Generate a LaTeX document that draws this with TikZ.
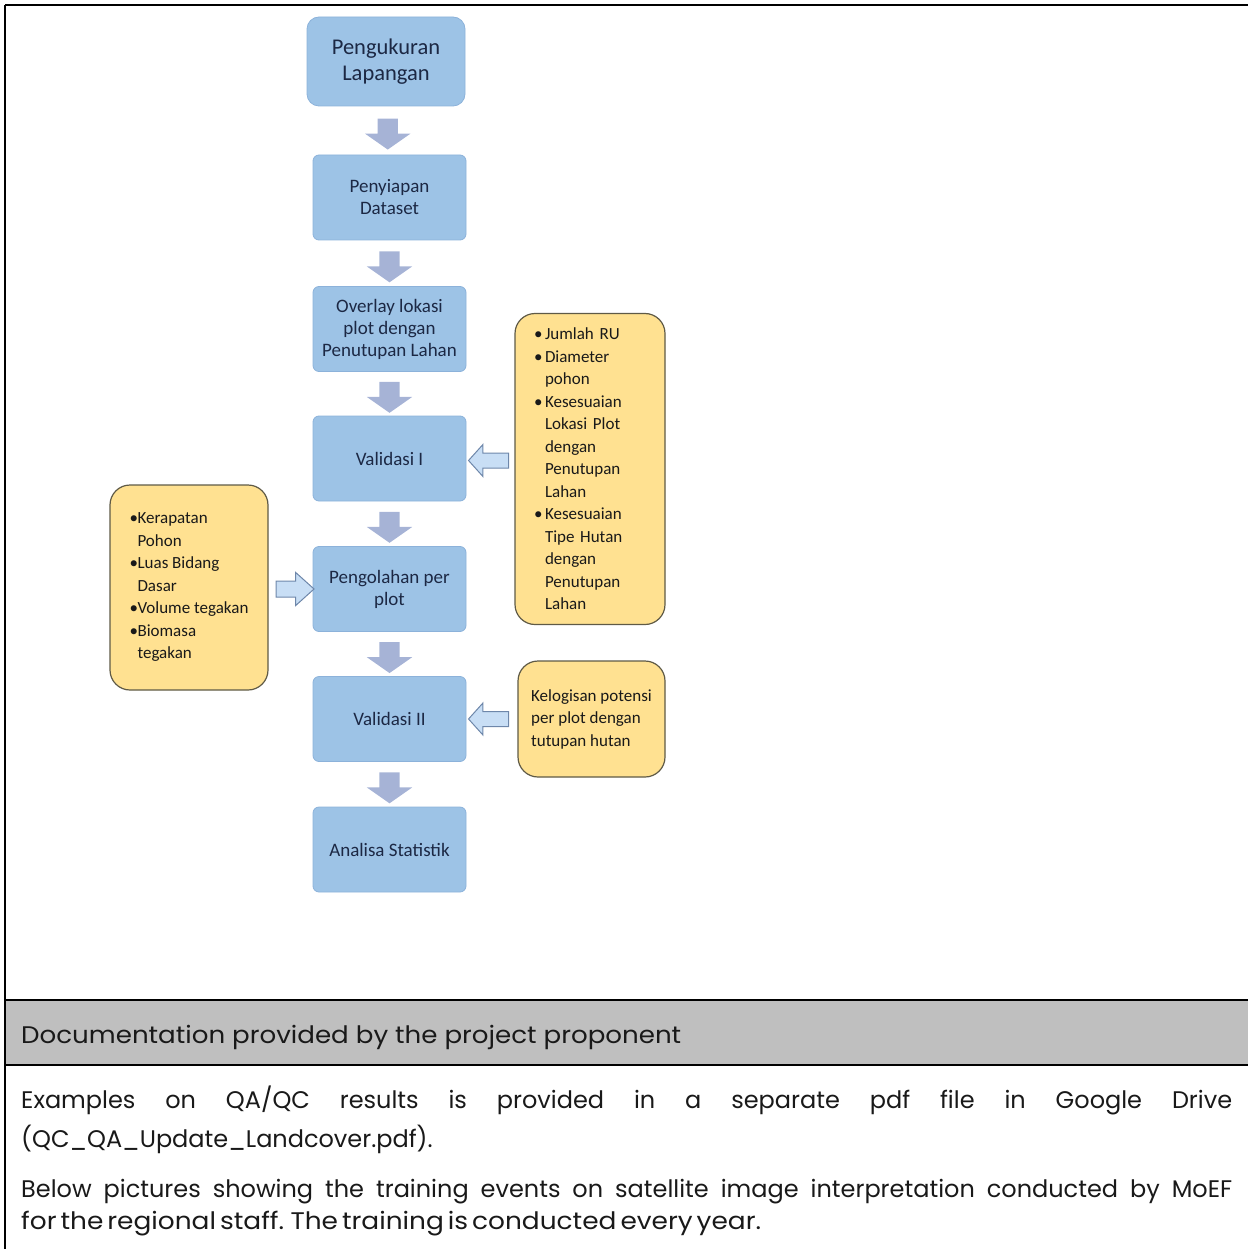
\documentclass[tikz,border=0pt]{standalone}
\usepackage{fontspec}
\setmainfont{Poppins}
\newfontfamily\calfont{Carlito}
\usetikzlibrary{shapes.arrows,calc}
\definecolor{boxblue}{RGB}{157,195,230}
\definecolor{boxblueline}{RGB}{140,178,218}
\definecolor{navytext}{RGB}{28,40,68}
\definecolor{arrowgray}{RGB}{166,179,214}
\definecolor{noteyellow}{RGB}{255,225,145}
\definecolor{noteline}{RGB}{95,90,70}
\definecolor{hollowfill}{RGB}{200,222,245}
\definecolor{hollowline}{RGB}{110,135,170}
\definecolor{bandgray}{RGB}{191,191,191}
\tikzset{
  flowbox/.style={rectangle, rounded corners=6pt, fill=boxblue, draw=boxblueline, line width=0.8pt,
    minimum width=153pt, minimum height=85pt, align=center, text=navytext, inner sep=2pt,
    font=\calfont\fontsize{19}{22}\selectfont},
  notebox/.style={rectangle, rounded corners=20pt, fill=noteyellow, draw=noteline, line width=1.2pt,
    align=left, text=black!90, inner sep=0pt, font=\calfont\fontsize{17}{22.5}\selectfont},
  downarrow/.style={single arrow, rotate=-90, fill=arrowgray, draw=none, inner xsep=0pt, inner ysep=10pt,
    minimum height=31pt, single arrow head extend=12.5pt,
    single arrow tip angle=110, single arrow head indent=0pt},
  hollowarrow/.style={single arrow, fill=hollowfill, draw=hollowline, line width=1pt, inner xsep=0pt, inner ysep=7pt,
    minimum height=40pt, single arrow head extend=8.5pt,
    single arrow tip angle=96, single arrow head indent=0pt},
  frameline/.style={line width=2pt, black},
  bodytext/.style={anchor=base west, inner sep=0pt, font=\fontsize{24}{28}\selectfont, text=black!90}
}
\newcommand\ybul[1]{\makebox[11pt][l]{•}#1}
\newcommand\yind[1]{\hspace*{11pt}#1}
\newcommand\lbul[1]{\makebox[8pt][l]{•}#1}
\newcommand\lind[1]{\hspace*{8pt}#1}
\begin{document}
\begin{tikzpicture}[x=1pt,y=-1pt]
\useasboundingbox (0,0) rectangle (1248,1249);
% frame and band
\fill[bandgray] (5,1000) rectangle (1248,1065);
\draw[frameline] (5,5) -- (1248,5);
\draw[frameline] (5,5) -- (5,1249);
\draw[frameline] (5,1000) -- (1248,1000);
\draw[frameline] (5,1065) -- (1248,1065);

% flow boxes
\node[flowbox, rounded corners=12pt, minimum width=158pt, minimum height=89pt,
  font=\calfont\fontsize{22.5}{26}\selectfont] (b1) at (386,61.5) {Pengukuran\\Lapangan};
\node[flowbox] (b2) at (389.5,197.5) {Penyiapan\\Dataset};
\node[flowbox] (b3) at (389.5,329) {Overlay lokasi\\plot dengan\\Penutupan Lahan};
\node[flowbox] (b4) at (389.5,458.5) {Validasi I};
\node[flowbox] (b5) at (389.5,589) {Pengolahan per\\plot};
\node[flowbox] (b6) at (389.5,719) {Validasi II};
\node[flowbox] (b7) at (389.5,849.5) {Analisa Statistik};

% down arrows
\node[downarrow] (d1) at ($(b1.south)!0.5!(b2.north)$) {};
\node[downarrow] (d2) at ($(b2.south)!0.5!(b3.north)$) {};
\node[downarrow] (d3) at ($(b3.south)!0.5!(b4.north)$) {};
\node[downarrow] (d4) at ($(b4.south)!0.5!(b5.north)$) {};
\node[downarrow] (d5) at ($(b5.south)!0.5!(b6.north)$) {};
\node[downarrow] (d6) at ($(b6.south)!0.5!(b7.north)$) {};

% notes
\node[notebox, minimum width=150pt, minimum height=311pt, text width=112pt] (n1) at (590,469)
 {\ybul{Jumlah RU}\\\ybul{Diameter}\\\yind{pohon}\\\ybul{Kesesuaian}\\\yind{Lokasi Plot}\\\yind{dengan}\\\yind{Penutupan}\\\yind{Lahan}\\\ybul{Kesesuaian}\\\yind{Tipe Hutan}\\\yind{dengan}\\\yind{Penutupan}\\\yind{Lahan}};
\node[notebox, minimum width=158pt, minimum height=205pt] (n2) at (189,587.5)
 {\lbul{Kerapatan}\\\lind{Pohon}\\\lbul{Luas Bidang}\\\lind{Dasar}\\\lbul{Volume tegakan}\\\lbul{Biomasa}\\\lind{tegakan}};
\node[notebox, minimum width=147pt, minimum height=116pt] (n3) at (591.5,719)
 {Kelogisan potensi\\per plot dengan\\tutupan hutan};

% hollow arrows
\node[hollowarrow, rotate=180] (h1) at ($(b4.east)!0.5!(n1.west |- b4.east)+(1.5,2)$) {};
\node[hollowarrow, inner ysep=7.5pt, minimum height=38pt, single arrow tip angle=84] (h2) at ($(n2.east |- b5.west)!0.5!(b5.west)$) {};
\node[hollowarrow, rotate=180] (h3) at ($(b6.east)!0.5!(n3.west |- b6.east)$) {};

% bottom texts
\node[bodytext] (t0) at (21,1043) {\scalebox{1.088}[1]{Documentation provided by the project proponent}};
\node[bodytext] (t1) at (21,1108) {\makebox[1211pt][s]{Examples on QA/QC results is provided in a separate pdf file in Google Drive}};
\node[bodytext] (t2) at (21,1147) {(QC\_QA\_Update\_Landcover.pdf).};
\node[bodytext] (t3) at (21,1197) {\makebox[1211pt][s]{\spaceskip=0.12em plus 0.5em minus 0.05em Below pictures showing the training events on satellite image interpretation conducted by MoEF}};
\node[bodytext] (t4) at (21,1229) {\scalebox{1.1}[1]{\spaceskip=0.15em plus 0.2em minus 0.05em for the regional staff. The training is conducted every year.}};
\end{tikzpicture}
\end{document}
